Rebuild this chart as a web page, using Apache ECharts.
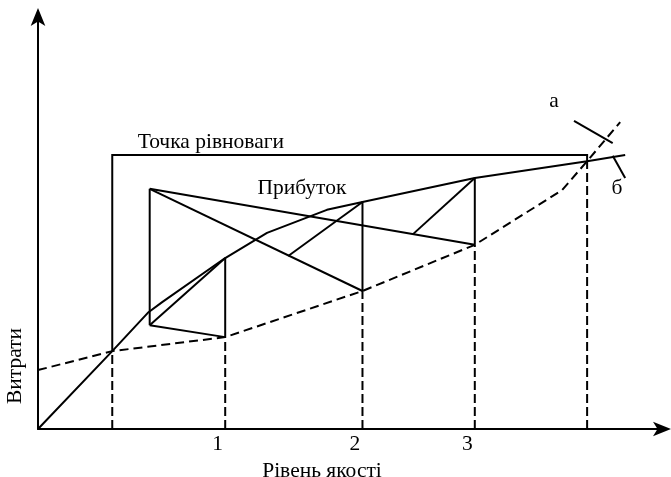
<!DOCTYPE html>
<html>
<head>
<meta charset="utf-8">
<script src="https://cdn.jsdelivr.net/npm/echarts@6/dist/echarts.min.js"></script>
<style>
  html, body { margin: 0; padding: 0; background: #fff; }
  #chart { width: 671px; height: 477px; }
</style>
</head>
<body>
<div id="chart"></div>
<script>
// крива "б" (дохід) і крива "а" (витрати)
var revenueX = [0, 11.9, 17.6, 19.9, 30, 36.7, 46.3, 52, 70, 88, 94.1];
var revenueY = [0, 18.9, 28.2, 30.8, 41.5, 47.6, 53.2, 55.1, 60.9, 65.0, 66.5];
var costX = [0, 11.9, 30, 52, 70, 84, 88, 93.3];
var costY = [14.3, 18.9, 22.3, 33.5, 44.7, 58, 65, 74.5];

// рівні якості: точка рівноваги, 1, 2, 3, межа
var levelX = [11.9, 30, 52, 70, 88];
var levelCost = [18.9, 22.3, 33.5, 44.7, 65];
var tickX = [30, 52, 70];
var tickLabels = ['1', '2', '3'];

// рамка "Точка рівноваги"
var boxPath = [[11.9, 18.9], [11.9, 66.5], [88, 66.5], [88, 65]];

// побудова "Прибуток"
var profitLines = [
  [[17.9, 58.3], [17.9, 25.2]],
  [[17.9, 58.3], [70, 44.7]],
  [[17.9, 58.3], [52, 33.5]],
  [[17.9, 25.2], [30, 22.3]],
  [[17.9, 25.2], [30, 41.5]],
  [[30, 22.3], [30, 41.5]],
  [[52, 33.5], [52, 55.1]],
  [[70, 44.7], [70, 60.9]],
  [[40.1, 42.0], [52, 55.1]],
  [[60.1, 47.3], [70, 60.9]]
];
var markA = [[85.9, 74.8], [92.1, 69.4]];
var markB = [[92.1, 66.3], [94.1, 60.9]];

var notes = [
  { name: 'Точка рівноваги', value: [27.7, 69.6] },
  { name: 'Прибуток', value: [42.3, 58.5] },
  { name: 'а', value: [82.7, 79.5] },
  { name: 'б', value: [92.8, 58.3] }
];

var FONT = 'Liberation Serif';
var FS = 21.5;
var INK = '#000';

function zip(xs, ys) {
  return xs.map(function (x, i) { return [x, ys[i]]; });
}

var chart = echarts.init(document.getElementById('chart'));

var dropLines = levelX.map(function (x, i) {
  return { coords: [[x, 0], [x, levelCost[i]]] };
});
var solidLines = profitLines.map(function (c) { return { coords: c }; });
solidLines.push({ coords: boxPath });
solidLines.push({ coords: markA });
solidLines.push({ coords: markB });

var option = {
  backgroundColor: '#ffffff',
  animation: false,
  textStyle: { fontFamily: FONT, color: INK },
  grid: { left: 38, right: 9, top: 17, bottom: 48, containLabel: false, outerBoundsMode: 'none' },
  xAxis: {
    type: 'value',
    min: 0,
    max: 100,
    name: 'Рівень якості',
    nameLocation: 'middle',
    nameGap: 20,
    nameTextStyle: { fontFamily: FONT, fontSize: FS, color: INK, padding: [0, 56, 0, 0] },
    axisLine: {
      lineStyle: { color: INK, width: 2 },
      symbol: ['none', 'arrow'],
      symbolSize: [11, 18],
      symbolOffset: [0, 9]
    },
    axisTick: { show: false },
    splitLine: { show: false },
    axisLabel: {
      customValues: tickX,
      formatter: function (v) { return tickLabels[tickX.indexOf(v)]; },
      fontFamily: FONT,
      fontSize: FS,
      color: INK,
      margin: 4,
      padding: [0, 15, 0, 0]
    }
  },
  yAxis: {
    type: 'value',
    min: 0,
    max: 100,
    name: 'Витрати',
    nameLocation: 'middle',
    nameRotate: 90,
    nameGap: 11.5,
    nameTextStyle: { fontFamily: FONT, fontSize: FS, color: INK, padding: [0, 286, 0, 0] },
    axisLine: {
      lineStyle: { color: INK, width: 2 },
      symbol: ['none', 'arrow'],
      symbolSize: [11, 18],
      symbolOffset: [0, 9]
    },
    axisTick: { show: false },
    axisLabel: { show: false },
    splitLine: { show: false }
  },
  series: [
    {
      name: 'б',
      type: 'line',
      data: zip(revenueX, revenueY),
      showSymbol: false,
      lineStyle: { color: INK, width: 2 }
    },
    {
      name: 'а',
      type: 'line',
      data: zip(costX, costY),
      showSymbol: false,
      lineStyle: { color: INK, width: 2, type: [9, 5] }
    },
    {
      type: 'lines',
      coordinateSystem: 'cartesian2d',
      polyline: true,
      data: dropLines,
      lineStyle: { color: INK, width: 2, opacity: 1, type: [9, 4] }
    },
    {
      type: 'lines',
      coordinateSystem: 'cartesian2d',
      polyline: true,
      data: solidLines,
      lineStyle: { color: INK, width: 2, opacity: 1 }
    },
    {
      type: 'scatter',
      data: notes,
      symbolSize: 0,
      itemStyle: { opacity: 1 },
      label: {
        show: true,
        position: 'inside',
        formatter: '{b}',
        fontFamily: FONT,
        fontSize: FS,
        color: INK
      }
    }
  ]
};

chart.setOption(option);
</script>
</body>
</html>
